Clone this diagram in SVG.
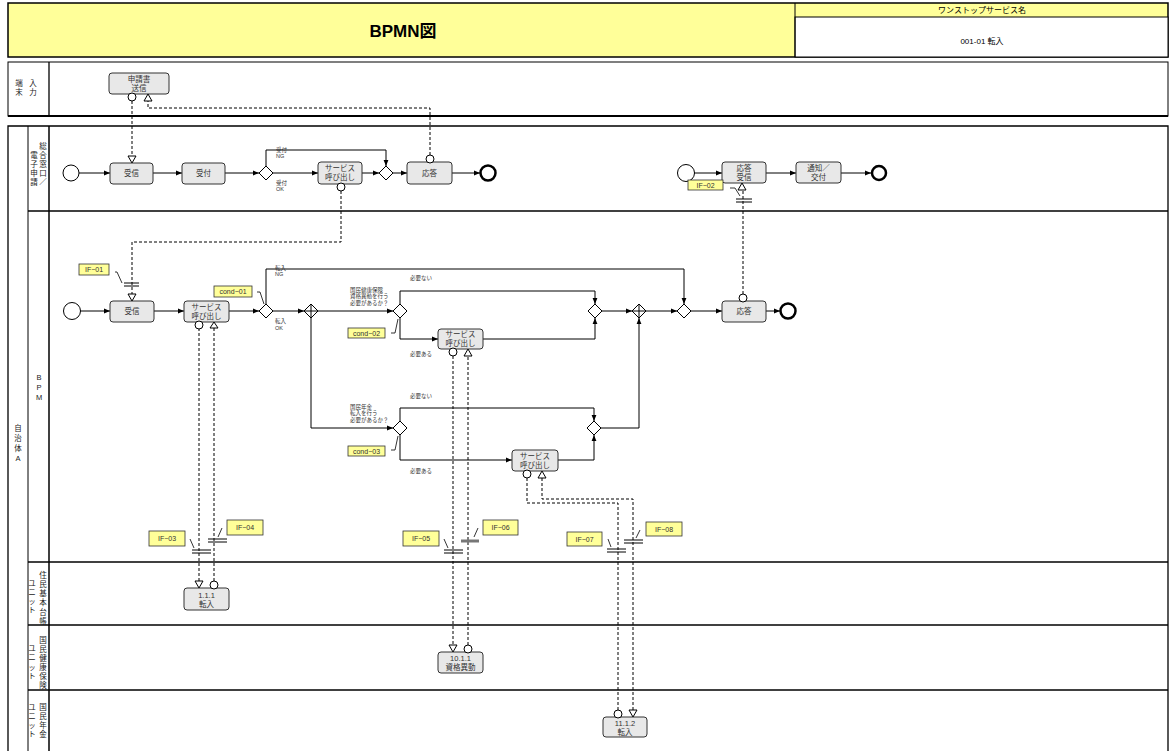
<svg xmlns="http://www.w3.org/2000/svg" width="1173" height="751" viewBox="0 0 1173 751">
<style>
text{font-family:"Liberation Sans","Noto Sans CJK JP",sans-serif;fill:#333}
.frame{fill:none;stroke:#000;stroke-width:1.3}
.task{fill:#e8e8e8;stroke:#333;stroke-width:1}
.t{font-size:7.5px;text-anchor:middle}
.lane{font-size:7.5px;text-anchor:middle;fill:#222}
.s{font-size:5.5px;fill:#333}
.ifb{fill:#ffff99;stroke:#333;stroke-width:0.8}
.ift{font-size:7px;text-anchor:middle;fill:#333}
.flow{fill:none;stroke:#000;stroke-width:1;marker-end:url(#arr)}
.line{fill:none;stroke:#000;stroke-width:1}
.msg{fill:none;stroke:#000;stroke-width:1;stroke-dasharray:3,2}
.mk{fill:#fff;stroke:#000;stroke-width:1}
.bar{stroke:#000;stroke-width:1}
.start{fill:#fff;stroke:#000;stroke-width:1}
.end{fill:#fff;stroke:#000;stroke-width:2.5}
.gwshape{fill:#fff;stroke:#000;stroke-width:1}
.lead{fill:none;stroke:#000;stroke-width:0.8}
</style>
<defs>
<marker id="arr" viewBox="0 0 10 10" refX="10" refY="5" markerWidth="6" markerHeight="6" orient="auto"><path d="M0,1 L10,5 L0,9 z" fill="#000"/></marker>
<g id="gw"><path class="gwshape" d="M-7,0 L0,-7 L7,0 L0,7 Z"/></g>
<g id="pgw"><path class="gwshape" d="M-7,0 L0,-7 L7,0 L0,7 Z"/><path class="line" d="M-7,0 H7 M0,-7 V7"/></g>
</defs>
<rect width="1173" height="751" fill="#fff"/>

<g id="header">
<rect x="8" y="3" width="1160" height="54" fill="#ffff99" stroke="#000" stroke-width="1.5"/>
<rect x="795" y="17" width="373" height="40" fill="#fff" stroke="#000" stroke-width="1"/>
<line x1="795" y1="3" x2="795" y2="57" stroke="#000" stroke-width="1"/>
<text x="403" y="37" style="font-size:17px;font-weight:bold;text-anchor:middle;fill:#000">BPMN図</text>
<text x="982" y="13" style="font-size:8px;text-anchor:middle;fill:#000">ワンストップサービス名</text>
<text x="982" y="44" style="font-size:8px;text-anchor:middle;fill:#000">001-01  転入</text>
</g>

<g id="lanes">
<rect x="8" y="62" width="1160" height="54" fill="none" stroke="#000" stroke-width="1"/>
<line x1="8" y1="116" x2="1168" y2="116" stroke="#000" stroke-width="2"/>
<line x1="49" y1="62" x2="49" y2="116" stroke="#000" stroke-width="1.3"/>
<text class="lane" x="19" y="86">端</text><text class="lane" x="19" y="95">末</text>
<text class="lane" x="33" y="86">入</text><text class="lane" x="33" y="95">力</text>

<path d="M8,760 V126 H1168 V760" fill="none" stroke="#000" stroke-width="1.3"/>
<line x1="28" y1="126" x2="28" y2="760" stroke="#000" stroke-width="1"/>
<line x1="49" y1="126" x2="49" y2="760" stroke="#000" stroke-width="1.5"/>
<line x1="28" y1="211" x2="1168" y2="211" stroke="#000" stroke-width="1.3"/>
<line x1="28" y1="562" x2="1168" y2="562" stroke="#000" stroke-width="1.3"/>
<line x1="28" y1="625" x2="1168" y2="625" stroke="#000" stroke-width="1.3"/>
<line x1="28" y1="690" x2="1168" y2="690" stroke="#000" stroke-width="1.3"/>

<text class="lane" x="18" y="431">自</text><text class="lane" x="18" y="441">治</text><text class="lane" x="18" y="451">体</text><text class="lane" x="18" y="461">A</text>

<text class="lane" x="43" y="149">総</text><text class="lane" x="43" y="158">合</text><text class="lane" x="43" y="167">窓</text><text class="lane" x="43" y="176">口</text><text class="lane" x="43" y="185">／</text>
<text class="lane" x="34" y="158">電</text><text class="lane" x="34" y="167">子</text><text class="lane" x="34" y="176">申</text><text class="lane" x="34" y="185">請</text>

<text class="lane" x="39" y="380">B</text><text class="lane" x="39" y="390">P</text><text class="lane" x="39" y="400">M</text>

<text class="lane" x="43" y="578">住</text><text class="lane" x="43" y="587">民</text><text class="lane" x="43" y="596">基</text><text class="lane" x="43" y="605">本</text><text class="lane" x="43" y="615">台</text><text class="lane" x="43" y="624">帳</text>
<text class="lane" x="32" y="586">ユ</text><text class="lane" x="32" y="595">ニ</text><text class="lane" x="32" y="604">ッ</text><text class="lane" x="32" y="613">ト</text>

<text class="lane" x="43" y="643">国</text><text class="lane" x="43" y="652">民</text><text class="lane" x="43" y="661">健</text><text class="lane" x="43" y="670">康</text><text class="lane" x="43" y="679">保</text><text class="lane" x="43" y="688">険</text>
<text class="lane" x="32" y="651">ユ</text><text class="lane" x="32" y="660">ニ</text><text class="lane" x="32" y="670">ッ</text><text class="lane" x="32" y="679">ト</text>

<text class="lane" x="43" y="710">国</text><text class="lane" x="43" y="719">民</text><text class="lane" x="43" y="728">年</text><text class="lane" x="43" y="737">金</text>
<text class="lane" x="32" y="710">ユ</text><text class="lane" x="32" y="719">ニ</text><text class="lane" x="32" y="728">ッ</text><text class="lane" x="32" y="737">ト</text>
</g>

<g id="connectors">
<path class="flow" d="M79,173 H110"/>
<path class="flow" d="M153,173 H182"/>
<path class="flow" d="M225,173 H259"/>
<path class="flow" d="M273,173 H318"/>
<path class="flow" d="M266,166 V150 H386 V166"/>
<path class="flow" d="M362,173 H379"/>
<path class="flow" d="M393,173 H407"/>
<path class="flow" d="M451,173 H480"/>
<path class="flow" d="M694,173 H722"/>
<path class="flow" d="M766,173 H796"/>
<path class="flow" d="M841,173 H871"/>

<path class="flow" d="M80,311 H110"/>
<path class="flow" d="M154,311 H184"/>
<path class="flow" d="M229,311 H259"/>
<path class="flow" d="M273,311 H304"/>
<path class="flow" d="M266,304 V269 H684 V304"/>
<path class="flow" d="M318,311 H393"/>
<path class="flow" d="M311,318 V428 H393"/>
<path class="flow" d="M400,304 V291 H595 V304"/>
<path class="flow" d="M400,318 V339 H438"/>
<path class="flow" d="M483,339 H595 V318"/>
<path class="flow" d="M602,311 H632"/>
<path class="flow" d="M646,311 H677"/>
<path class="flow" d="M691,311 H722"/>
<path class="flow" d="M766,311 H780"/>
<path class="flow" d="M400,421 V408 H594 V421"/>
<path class="flow" d="M400,435 V460 H512"/>
<path class="flow" d="M558,460 H594 V435"/>
<path class="flow" d="M601,428 H639 V318"/>

<path class="msg" d="M132,101 V156"/>
<path class="msg" d="M430,155 V108 H148 V101"/>
<path class="msg" d="M341,191 V242 H132 V294"/>
<path class="msg" d="M743,294 V190"/>
<path class="msg" d="M199,328 V581"/>
<path class="msg" d="M214,581 V328"/>
<path class="msg" d="M453,356 V645"/>
<path class="msg" d="M468,645 V356"/>
<path class="msg" d="M527,478 V503 H618 V710"/>
<path class="msg" d="M542,478 V499 H633 V710"/>

<path class="bar" d="M124,283 H139 M124,286 H139"/>
<path class="bar" d="M736,199 H752 M736,202 H752"/>
<path class="bar" d="M192,550 H211 M192,553 H211"/>
<path class="bar" d="M208,539 H227 M208,542 H227"/>
<path class="bar" d="M444,550 H463 M444,553 H463"/>
<path d="M461,541 H479" stroke="#777" stroke-width="3"/>
<path class="bar" d="M607,549 H626 M607,552 H626"/>
<path class="bar" d="M624,540 H643 M624,543 H643"/>

<path class="lead" d="M115,272 H117 L122,283"/>
<path class="lead" d="M730,188 H735 L740,196"/>
<path class="lead" d="M257,292 H260 L264,304"/>
<path class="lead" d="M391,333 H395 L398,319"/>
<path class="lead" d="M391,450 H395 L398,436"/>
<path class="lead" d="M190,539 L194,548"/>
<path class="lead" d="M222,528 L218,537"/>
<path class="lead" d="M444,539 L448,548"/>
<path class="lead" d="M478,528 L474,537"/>
<path class="lead" d="M608,539 L611,547"/>
<path class="lead" d="M640,530 L636,538"/>
</g>

<g id="n-shinsei">
<rect class="task" x="109" y="73" width="60" height="21" rx="3"/>
<text class="t" x="139" y="82">申請書</text><text class="t" x="139" y="91">送信</text>
<circle class="mk" cx="132" cy="97" r="4"/>
<path class="mk" d="M144,101 L152,101 L148,94 Z"/>
</g>

<g id="n-start1"><circle class="start" cx="71" cy="173" r="8"/></g>
<g id="n-jushin1">
<rect class="task" x="110" y="163" width="43" height="21" rx="3"/>
<text class="t" x="131.5" y="176">受信</text>
<path class="mk" d="M128,156 L136,156 L132,163 Z"/>
</g>
<g id="n-uketsuke">
<rect class="task" x="182" y="163" width="43" height="21" rx="3"/>
<text class="t" x="203.5" y="176">受付</text>
</g>
<g id="n-gw1"><use href="#gw" x="266" y="173"/>
<text class="s" x="276" y="152">受付</text><text class="s" x="276" y="158">NG</text>
<text class="s" x="276" y="185">受付</text><text class="s" x="276" y="191">OK</text>
</g>
<g id="n-svc0">
<rect class="task" x="318" y="162" width="44" height="22" rx="3"/>
<text class="t" x="340" y="171">サービス</text><text class="t" x="340" y="180">呼び出し</text>
<circle class="mk" cx="341" cy="187" r="4"/>
</g>
<g id="n-gw2"><use href="#gw" x="386" y="173"/></g>
<g id="n-outou1">
<rect class="task" x="407" y="162" width="45" height="22" rx="3"/>
<text class="t" x="429.5" y="176">応答</text>
<circle class="mk" cx="430" cy="159" r="4"/>
</g>
<g id="n-end1"><circle class="end" cx="488" cy="173" r="7.5"/></g>

<g id="n-start2"><circle class="start" cx="686" cy="173" r="8.5"/></g>
<g id="n-outoujushin">
<rect class="task" x="722" y="162" width="44" height="21" rx="3"/>
<text class="t" x="744" y="171">応答</text><text class="t" x="744" y="180">受信</text>
<path class="mk" d="M738,190 L746,190 L742,183 Z"/>
</g>
<g id="n-if02"><rect class="ifb" x="688" y="180" width="35" height="10"/><text class="ift" x="705.5" y="188">IF−02</text></g>
<g id="n-tsuchi">
<rect class="task" x="796" y="162" width="45" height="21" rx="3"/>
<text class="t" x="818.5" y="171">通知／</text><text class="t" x="818.5" y="180">交付</text>
</g>
<g id="n-end2"><circle class="end" cx="879" cy="173" r="7"/></g>

<g id="n-start3"><circle class="start" cx="72" cy="311" r="8.5"/></g>
<g id="n-jushin2">
<rect class="task" x="110" y="301" width="44" height="21" rx="3"/>
<text class="t" x="132" y="314">受信</text>
<path class="mk" d="M128,294 L136,294 L132,301 Z"/>
</g>
<g id="n-if01"><rect class="ifb" x="79" y="264" width="30" height="11"/><text class="ift" x="94" y="272">IF−01</text></g>
<g id="n-svc1">
<rect class="task" x="184" y="301" width="45" height="21" rx="3"/>
<text class="t" x="206.5" y="310">サービス</text><text class="t" x="206.5" y="319">呼び出し</text>
<circle class="mk" cx="199" cy="325" r="4"/>
<path class="mk" d="M210,328 L218,328 L214,322 Z"/>
</g>
<g id="n-gw3"><use href="#gw" x="266" y="311"/>
<text class="s" x="275" y="270">転入</text><text class="s" x="275" y="276">NG</text>
<text class="s" x="275" y="323">転入</text><text class="s" x="275" y="330">OK</text>
</g>
<g id="n-cond01"><rect class="ifb" x="214" y="286" width="38" height="11"/><text class="ift" x="233" y="294">cond−01</text></g>
<g id="n-pgw1"><use href="#pgw" x="311" y="311"/></g>
<g id="n-gw4"><use href="#gw" x="400" y="311"/>
<text class="s" x="350" y="292">国民健康保険</text><text class="s" x="350" y="298">資格異動を行う</text><text class="s" x="350" y="305">必要があるか？</text>
<text class="s" x="410" y="280">必要ない</text><text class="s" x="410" y="356">必要ある</text>
</g>
<g id="n-cond02"><rect class="ifb" x="348" y="328" width="37" height="10"/><text class="ift" x="366.5" y="336">cond−02</text></g>
<g id="n-svc2">
<rect class="task" x="438" y="329" width="45" height="20" rx="3"/>
<text class="t" x="460.5" y="337">サービス</text><text class="t" x="460.5" y="346">呼び出し</text>
<circle class="mk" cx="453" cy="352" r="4"/>
<path class="mk" d="M464,356 L472,356 L468,349 Z"/>
</g>
<g id="n-gw5"><use href="#gw" x="595" y="311"/></g>
<g id="n-pgw2"><use href="#pgw" x="639" y="311"/></g>
<g id="n-gw6"><use href="#gw" x="684" y="311"/></g>
<g id="n-outou2">
<rect class="task" x="722" y="301" width="44" height="21" rx="3"/>
<text class="t" x="744" y="314">応答</text>
<circle class="mk" cx="743" cy="298" r="4"/>
</g>
<g id="n-end3"><circle class="end" cx="788" cy="311" r="7.5"/></g>

<g id="n-gw7"><use href="#gw" x="400" y="428"/>
<text class="s" x="350" y="409">国民年金</text><text class="s" x="350" y="415">転入を行う</text><text class="s" x="350" y="422">必要があるか？</text>
<text class="s" x="410" y="398">必要ない</text><text class="s" x="410" y="473">必要ある</text>
</g>
<g id="n-cond03"><rect class="ifb" x="348" y="446" width="37" height="10"/><text class="ift" x="366.5" y="454">cond−03</text></g>
<g id="n-svc3">
<rect class="task" x="512" y="450" width="46" height="21" rx="3"/>
<text class="t" x="535" y="459">サービス</text><text class="t" x="535" y="468">呼び出し</text>
<circle class="mk" cx="527" cy="474" r="4"/>
<path class="mk" d="M538,478 L546,478 L542,471 Z"/>
</g>
<g id="n-gw8"><use href="#gw" x="594" y="428"/></g>

<g id="n-if03"><rect class="ifb" x="149" y="531" width="36" height="15"/><text class="ift" x="167" y="541">IF−03</text></g>
<g id="n-if04"><rect class="ifb" x="227" y="520" width="36" height="15"/><text class="ift" x="245" y="530">IF−04</text></g>
<g id="n-if05"><rect class="ifb" x="403" y="531" width="36" height="15"/><text class="ift" x="421" y="541">IF−05</text></g>
<g id="n-if06"><rect class="ifb" x="483" y="520" width="35" height="15"/><text class="ift" x="500.5" y="530">IF−06</text></g>
<g id="n-if07"><rect class="ifb" x="567" y="532" width="35" height="14"/><text class="ift" x="584.5" y="542">IF−07</text></g>
<g id="n-if08"><rect class="ifb" x="646" y="522" width="36" height="14"/><text class="ift" x="664" y="532">IF−08</text></g>

<g id="n-111">
<rect class="task" x="184" y="588" width="45" height="22" rx="3"/>
<text class="t" x="206.5" y="598">1.1.1</text><text class="t" x="206.5" y="607">転入</text>
<path class="mk" d="M195,581 L203,581 L199,588 Z"/>
<circle class="mk" cx="214" cy="585" r="4"/>
</g>
<g id="n-1011">
<rect class="task" x="438" y="652" width="45" height="21" rx="3"/>
<text class="t" x="460.5" y="661">10.1.1</text><text class="t" x="460.5" y="670">資格異動</text>
<path class="mk" d="M449,645 L457,645 L453,652 Z"/>
<circle class="mk" cx="468" cy="649" r="4"/>
</g>
<g id="n-1112">
<rect class="task" x="603" y="717" width="44" height="20" rx="3"/>
<text class="t" x="625" y="726">11.1.2</text><text class="t" x="625" y="735">転入</text>
<circle class="mk" cx="618" cy="714" r="4"/>
<path class="mk" d="M629,710 L637,710 L633,717 Z"/>
</g>
</svg>
